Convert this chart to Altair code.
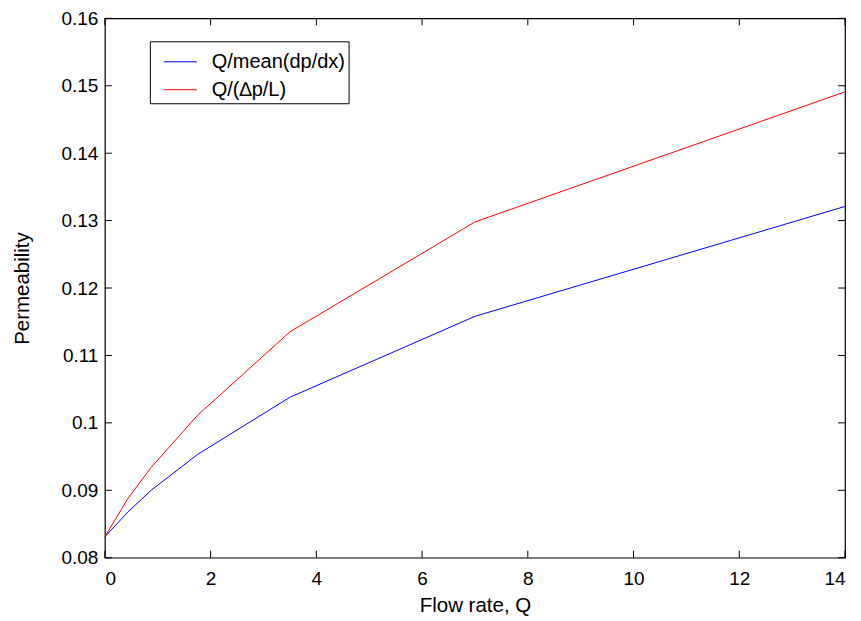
import altair as alt
import pandas as pd

flow = [0, 0.4375, 0.875, 1.75, 3.5, 7, 14]
perm_mean = [0.0831, 0.0868, 0.0900, 0.0953, 0.1038, 0.1158, 0.1321]
perm_dpl = [0.0831, 0.0888, 0.0934, 0.1011, 0.1135, 0.1298, 0.1491]
series = ["Q/mean(dp/dx)", "Q/(\u2206p/L)"]
x_ticks = [0, 2, 4, 6, 8, 10, 12, 14]
y_ticks = [0.08, 0.09, 0.10, 0.11, 0.12, 0.13, 0.14, 0.15, 0.16]

rows = []
for q, a, b in zip(flow, perm_mean, perm_dpl):
    rows.append({"Q": q, "k": a, "s": series[0]})
    rows.append({"Q": q, "k": b, "s": series[1]})
df = pd.DataFrame(rows)

W, H = 741, 540
FONT = "Liberation Sans"

xs = alt.Scale(domain=[0, 14], nice=False)
ys = alt.Scale(domain=[0.08, 0.16], nice=False, zero=False)

lines = alt.Chart(df).mark_line(strokeWidth=1).encode(
    x=alt.X("Q:Q", scale=xs, title="Flow rate, Q",
            axis=alt.Axis(values=x_ticks, ticks=False, domain=False, grid=False,
                          labelPadding=12, titlePadding=7, format="d")),
    y=alt.Y("k:Q", scale=ys, title="Permeability",
            axis=alt.Axis(values=y_ticks, ticks=False, domain=False, grid=False,
                          labelPadding=7, titlePadding=28, format=".2~f")),
    color=alt.Color("s:N", title=None,
                    scale=alt.Scale(domain=series, range=["#0000ff", "#ff0000"]),
                    legend=alt.Legend(orient="none", legendX=45, legendY=23,
                                      symbolType="stroke", symbolSize=1100,
                                      symbolStrokeWidth=1, labelFontSize=20,
                                      labelFont=FONT, labelColor="black",
                                      strokeColor="black", fillColor="white",
                                      padding=3, rowPadding=-10, labelOffset=14,
                                      symbolOffset=10)),
)

xt = pd.DataFrame({"v": x_ticks})
yt = pd.DataFrame({"v": y_ticks})

xb = alt.Chart(xt).mark_rule(color="black").encode(
    x=alt.X("v:Q", scale=xs), y=alt.value(H), y2=alt.value(H - 7))
xtop = alt.Chart(xt).mark_rule(color="black").encode(
    x=alt.X("v:Q", scale=xs), y=alt.value(0), y2=alt.value(7))
yl = alt.Chart(yt).mark_rule(color="black").encode(
    y=alt.Y("v:Q", scale=ys), x=alt.value(0), x2=alt.value(7))
yr = alt.Chart(yt).mark_rule(color="black").encode(
    y=alt.Y("v:Q", scale=ys), x=alt.value(W), x2=alt.value(W - 7))

chart = alt.layer(lines, xb, xtop, yl, yr).properties(
    width=W, height=H,
    autosize=alt.AutoSizeParams(type="none"),
    padding={"left": 97, "top": 10, "right": 8, "bottom": 60},
    background="white",
).configure_view(stroke="black", strokeWidth=1.2).configure_axis(
    labelFont=FONT, labelFontSize=19, labelColor="black",
    titleFont=FONT, titleFontSize=20.5, titleFontWeight="normal", titleColor="black",
)

chart.save("out.html", embed_options={"renderer": "svg", "actions": False})
